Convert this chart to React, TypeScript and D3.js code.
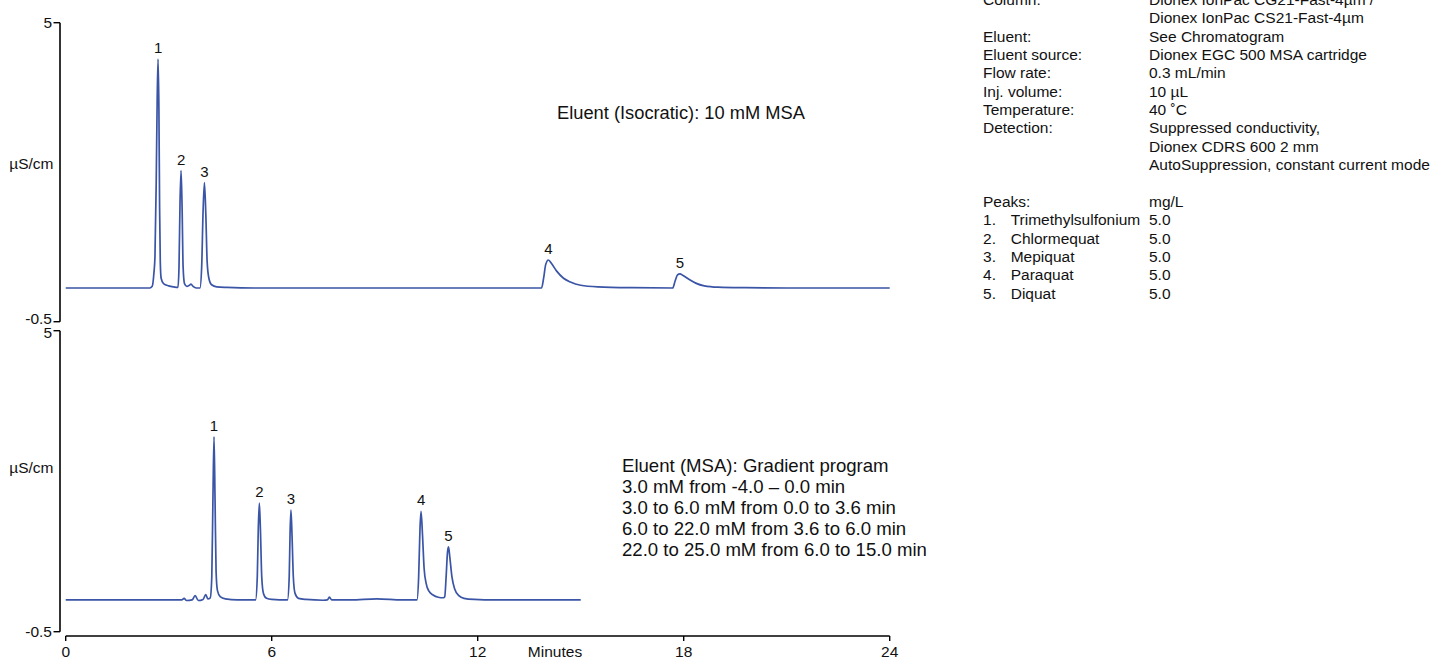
import React from "react";
import * as d3 from "d3";

// ---------- data ----------
const xTicks = [0, 6, 12, 18, 24];
const yTicks = [-0.5, 5];

// Top chromatogram (isocratic) : [minutes, µS/cm]
const topTrace: [number, number][] = [
  [0, 0.12], [2.45, 0.12], [2.52, 0.15], [2.57, 0.4], [2.6, 0.7], [2.635, 2.0], [2.665, 3.6], [2.69, 4.33],
  [2.715, 3.4], [2.735, 1.6], [2.755, 0.6], [2.78, 0.3], [2.85, 0.2], [3.0, 0.16], [3.15, 0.14], [3.27, 0.13],
  [3.3, 0.5], [3.33, 1.7], [3.36, 2.28], [3.39, 1.6], [3.42, 0.5], [3.46, 0.2], [3.53, 0.15], [3.6, 0.17],
  [3.65, 0.19], [3.71, 0.15], [3.8, 0.12], [3.91, 0.12],
  [3.96, 0.5], [4.0, 1.5], [4.04, 2.06], [4.08, 1.5], [4.12, 0.6], [4.17, 0.3], [4.25, 0.18], [4.4, 0.14],
  [4.7, 0.13], [5.5, 0.12], [9, 0.12], [13.86, 0.12],
  [13.92, 0.3], [13.98, 0.55], [14.06, 0.635], [14.15, 0.57], [14.3, 0.43], [14.5, 0.3], [14.7, 0.23],
  [15.0, 0.17], [15.5, 0.14], [16.5, 0.125], [17.68, 0.12],
  [17.75, 0.25], [17.82, 0.36], [17.89, 0.38], [17.98, 0.35], [18.15, 0.28], [18.35, 0.21], [18.6, 0.16],
  [19.0, 0.135], [19.8, 0.125], [21, 0.12], [24, 0.12],
];

// Bottom chromatogram (gradient) : [minutes, µS/cm]
const bottomTrace: [number, number][] = [
  [0, 0.08], [3.38, 0.08], [3.45, 0.11], [3.52, 0.07], [3.68, 0.08], [3.77, 0.16], [3.86, 0.07], [4.0, 0.09],
  [4.08, 0.18], [4.14, 0.1], [4.21, 0.12], [4.255, 0.5], [4.29, 2.0], [4.32, 3.06], [4.35, 1.9], [4.38, 0.6],
  [4.42, 0.25], [4.5, 0.14], [4.65, 0.1], [5.0, 0.08], [5.53, 0.08],
  [5.58, 0.5], [5.61, 1.4], [5.64, 1.85], [5.67, 1.4], [5.71, 0.5], [5.76, 0.2], [5.85, 0.11], [6.0, 0.09], [6.46, 0.08],
  [6.51, 0.5], [6.535, 1.3], [6.56, 1.72], [6.59, 1.3], [6.63, 0.5], [6.68, 0.2], [6.78, 0.11], [7.0, 0.09],
  [7.5, 0.075], [7.62, 0.08], [7.68, 0.13], [7.75, 0.08], [8.3, 0.08], [9.06, 0.1], [9.8, 0.08], [10.23, 0.08],
  [10.28, 0.5], [10.32, 1.4], [10.35, 1.7], [10.39, 1.3], [10.44, 0.65], [10.5, 0.38], [10.58, 0.24], [10.7, 0.17],
  [10.85, 0.13], [11.0, 0.12], [11.04, 0.14],
  [11.08, 0.5], [11.12, 0.95], [11.15, 1.05], [11.19, 0.85], [11.25, 0.5], [11.33, 0.28], [11.45, 0.16],
  [11.6, 0.11], [11.9, 0.09], [12.5, 0.08], [15.0, 0.08],
];

const topPeakLabels = ["1", "2", "3", "4", "5"];
const topPeakTimes = [2.69, 3.36, 4.04, 14.06, 17.89];
const topPeakHeights = [4.33, 2.28, 2.06, 0.635, 0.38];

const bottomPeakLabels = ["1", "2", "3", "4", "5"];
const bottomPeakTimes = [4.32, 5.64, 6.56, 10.35, 11.15];
const bottomPeakHeights = [3.06, 1.85, 1.72, 1.7, 1.05];

const topNote = ["Eluent (Isocratic): 10 mM MSA"];
const bottomNote = [
  "Eluent (MSA): Gradient program",
  "3.0 mM from -4.0 \u2013 0.0 min",
  "3.0 to 6.0 mM from 0.0 to 3.6 min",
  "6.0 to 22.0 mM from 3.6 to 6.0 min",
  "22.0 to 25.0 mM from 6.0 to 15.0 min",
];

const infoLabels = ["Column:", "", "Eluent:", "Eluent source:", "Flow rate:", "Inj. volume:", "Temperature:", "Detection:", "", "", "", "Peaks:"];
const infoValues = [
  "Dionex IonPac CG21-Fast-4\u00b5m /",
  "Dionex IonPac CS21-Fast-4\u00b5m",
  "See Chromatogram",
  "Dionex EGC 500 MSA cartridge",
  "0.3 mL/min",
  "10 \u00b5L",
  "40 \u02daC",
  "Suppressed conductivity,",
  "Dionex CDRS 600 2 mm",
  "AutoSuppression, constant current mode",
  "",
  "mg/L",
];
const peakNames = ["Trimethylsulfonium", "Chlormequat", "Mepiquat", "Paraquat", "Diquat"];
const peakConc = ["5.0", "5.0", "5.0", "5.0", "5.0"];

// ---------- layout ----------
const W = 1436;
const H = 659;
const FONT = "'Liberation Sans', Arial, Helvetica, sans-serif";
const LINE_COLOR = "#3a54a6";
const AX_FS = 15.5;
const INFO_FS = 15.5;

const x = d3.scaleLinear().domain([0, 24]).range([65.7, 889.7]);
const yTop = d3.scaleLinear().domain([-0.5, 5]).range([321.7, 22.7]);
const yBot = d3.scaleLinear().domain([-0.5, 5]).range([631.7, 330.7]);

const axisX = 60;
const xAxisY = 636;

function YAxis({ y, labelY, isTop }: { y: d3.ScaleLinear<number, number>; labelY: number; isTop: boolean }) {
  const [r0, r1] = y.range();
  return (
    <g>
      <line x1={axisX} x2={axisX} y1={r1} y2={r0} stroke="#000" strokeWidth={1.6} />
      {yTicks.map((t, i) => {
        // top panel's lower label sits just above its tick; bottom panel's upper label sits a bit lower
        const dy = isTop && i === 0 ? 2 : !isTop && i === 1 ? 7 : 5.5;
        return (
          <g key={t}>
            <line x1={axisX - 6.5} x2={axisX} y1={y(t)} y2={y(t)} stroke="#000" strokeWidth={1.4} />
            <text x={axisX - 8} y={y(t) + dy} textAnchor="end" fontSize={AX_FS} fontFamily={FONT} fill="#111">
              {t}
            </text>
          </g>
        );
      })}
      <text x={53.5} y={labelY + 5.5} textAnchor="end" fontSize={AX_FS} fontFamily={FONT} fill="#111">
        µS/cm
      </text>
    </g>
  );
}

function Trace({ data, y }: { data: [number, number][]; y: d3.ScaleLinear<number, number> }) {
  const line = d3
    .line<[number, number]>()
    .x((d) => x(d[0]))
    .y((d) => y(d[1]))
    .curve(d3.curveMonotoneX);
  return <path d={line(data) || ""} fill="none" stroke={LINE_COLOR} strokeWidth={1.7} strokeLinejoin="round" />;
}

function PeakLabels({ labels, times, heights, y }: { labels: string[]; times: number[]; heights: number[]; y: d3.ScaleLinear<number, number> }) {
  return (
    <g>
      {labels.map((l, i) => (
        <text key={i} x={x(times[i])} y={y(heights[i]) - 6} textAnchor="middle" fontSize={15} fontFamily={FONT} fill="#111">
          {l}
        </text>
      ))}
    </g>
  );
}

export default function App() {
  const rowH = 18.35;
  const row0 = -0.6;
  const labX = 983;
  const valX = 1149;
  const nameX = 1010.7;
  const base = 5.6;
  return (
    <svg width={W} height={H} style={{ position: "absolute", left: 0, top: 0, background: "#fff" }}>
      <rect x={0} y={0} width={W} height={H} fill="#fff" />
      <YAxis y={yTop} labelY={163} isTop={true} />
      <YAxis y={yBot} labelY={467} isTop={false} />

      {/* x axis */}
      <line x1={x(0)} x2={x(24)} y1={xAxisY} y2={xAxisY} stroke="#000" strokeWidth={1.6} />
      {xTicks.map((t) => (
        <g key={t}>
          <line x1={x(t)} x2={x(t)} y1={xAxisY} y2={xAxisY + 5} stroke="#000" strokeWidth={1.4} />
          <text x={x(t)} y={657.3} textAnchor="middle" fontSize={AX_FS} fontFamily={FONT} fill="#111">
            {t}
          </text>
        </g>
      ))}
      <text x={555} y={657.3} textAnchor="middle" fontSize={AX_FS} fontFamily={FONT} fill="#111">
        Minutes
      </text>

      <Trace data={topTrace} y={yTop} />
      <Trace data={bottomTrace} y={yBot} />
      <PeakLabels labels={topPeakLabels} times={topPeakTimes} heights={topPeakHeights} y={yTop} />
      <PeakLabels labels={bottomPeakLabels} times={bottomPeakTimes} heights={bottomPeakHeights} y={yBot} />

      {topNote.map((s, i) => (
        <text key={i} x={557} y={118.5} fontSize={18.3} fontFamily={FONT} fill="#111">
          {s}
        </text>
      ))}
      {bottomNote.map((s, i) => (
        <text key={i} x={622} y={471.5 + i * 21} fontSize={18.6} fontFamily={FONT} fill="#111">
          {s}
        </text>
      ))}

      {infoValues.map((v, i) => (
        <g key={i}>
          {infoLabels[i] ? (
            <text x={labX} y={row0 + i * rowH + base} fontSize={INFO_FS} fontFamily={FONT} fill="#111">
              {infoLabels[i]}
            </text>
          ) : null}
          {v ? (
            <text x={valX} y={row0 + i * rowH + base} fontSize={INFO_FS} fontFamily={FONT} fill="#111">
              {v}
            </text>
          ) : null}
        </g>
      ))}
      {peakNames.map((n, i) => (
        <g key={n}>
          <text x={labX} y={row0 + (12 + i) * rowH + base} fontSize={INFO_FS} fontFamily={FONT} fill="#111">
            {i + 1}.
          </text>
          <text x={nameX} y={row0 + (12 + i) * rowH + base} fontSize={INFO_FS} fontFamily={FONT} fill="#111">
            {n}
          </text>
          <text x={valX} y={row0 + (12 + i) * rowH + base} fontSize={INFO_FS} fontFamily={FONT} fill="#111">
            {peakConc[i]}
          </text>
        </g>
      ))}
    </svg>
  );
}
